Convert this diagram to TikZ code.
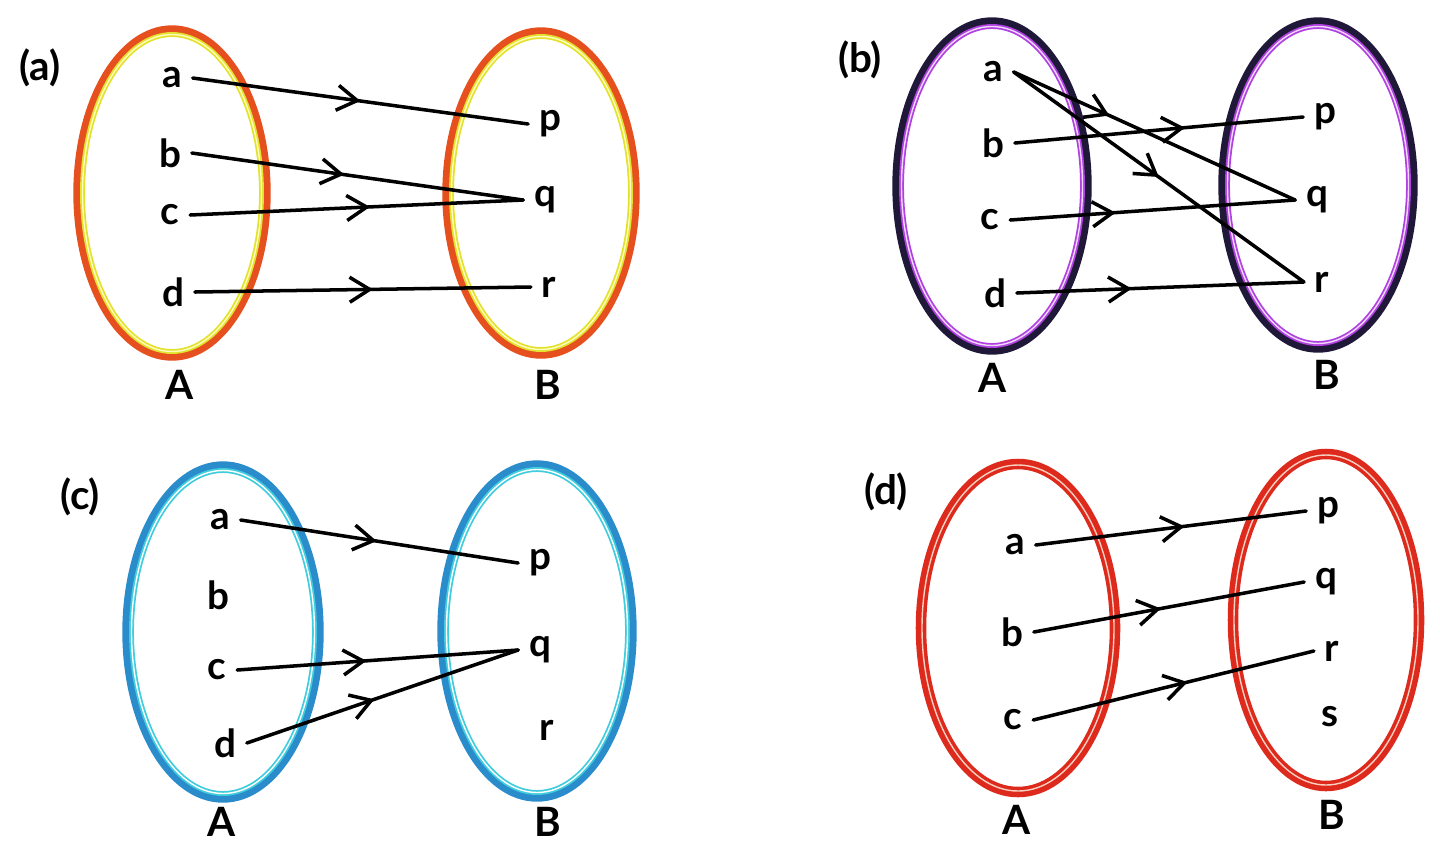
\documentclass[tikz,border=0pt]{standalone}
\usepackage{fontspec}
\setmainfont{Lato}
\usetikzlibrary{arrows.meta,decorations.markings}

\definecolor{orng}{HTML}{E5501E}
\definecolor{yllw}{HTML}{E2E22E}
\definecolor{navy}{HTML}{201838}
\definecolor{purp}{HTML}{B040E0}
\definecolor{sky}{HTML}{2B8CCB}
\definecolor{cyanl}{HTML}{3FCCDD}
\definecolor{rd}{HTML}{DD2A1C}
\definecolor{pinkl}{HTML}{F8D0C0}

\tikzset{
  elem/.style={font=\fontsize{22}{24}\bfseries\selectfont, inner sep=6pt},
  setname/.style={font=\fontsize{23}{24}\bfseries\selectfont},
  tag/.style={font=\fontsize{23}{24}\bfseries\selectfont},
  map/.style={line width=2pt, line cap=round,
    decoration={markings, mark=at position #1 with {\arrow{Straight Barb[length=4mm,width=5mm,line width=2pt]}}},
    postaction={decorate}},
  map/.default=0.5,
  ringout/.style={draw=#1, line width=4.2pt},
  ringin/.style={draw=#1, line width=2.8pt},
  ringline/.style={draw=#1, line width=0.8pt}
}

\begin{document}
\begin{tikzpicture}[x=0.02cm,y=-0.02cm]
  \useasboundingbox (0,0) rectangle (1440,843);

  % (a)
  \node[tag] (ta) at (40,68) {(a)};
  \draw[ringout=orng] (172,193) ellipse [x radius=95, y radius=164];
  \draw[ringin=yllw] (172,193) ellipse [x radius=89.5, y radius=158.5];
  \draw[ringline=yellow!25] (172,193) ellipse [x radius=89.5, y radius=158.5];
  \draw[ringout=orng] (541,193) ellipse [x radius=95, y radius=162];
  \draw[ringin=yllw] (541,193) ellipse [x radius=89.5, y radius=156.5];
  \draw[ringline=yellow!25] (541,193) ellipse [x radius=89.5, y radius=156.5];
  \node[elem] (a1) at (172,78) {a};
  \node[elem] (b1) at (170,153) {b};
  \node[elem] (c1) at (170,215) {c};
  \node[elem] (d1) at (173,292) {d};
  \node[elem] (p1) at (550,124) {p};
  \node[elem] (q1) at (545,200) {q};
  \node[elem] (r1) at (549,287) {r};
  \node[setname] (A1) at (180,385) {A};
  \node[setname] (B1) at (548,385) {B};
  \draw[map=0.5] (a1.east) -- (p1.west);
  \draw[map=0.46] (b1.east) -- (q1.west);
  \draw[map=0.54] (c1.east) -- (q1.west);
  \draw[map=0.53] (d1.east) -- (r1.west);

  % (b)
  \node[tag] (tb) at (860,60) {(b)};
  \draw[ringout=navy] (992,186) ellipse [x radius=96, y radius=165];
  \draw[ringin=purp] (992,186) ellipse [x radius=90.5, y radius=159.5];
  \draw[ringline=purp!20] (992,186) ellipse [x radius=90.5, y radius=159.5];
  \draw[ringout=navy] (1318,185) ellipse [x radius=96, y radius=164];
  \draw[ringin=purp] (1318,185) ellipse [x radius=90.5, y radius=158.5];
  \draw[ringline=purp!20] (1318,185) ellipse [x radius=90.5, y radius=158.5];
  \node[elem] (a2) at (993,72) {a};
  \node[elem] (b2) at (993,143) {b};
  \node[elem] (c2) at (990,220) {c};
  \node[elem] (d2) at (995,293) {d};
  \node[elem] (p2) at (1325,117) {p};
  \node[elem] (q2) at (1317,200) {q};
  \node[elem] (r2) at (1322,282) {r};
  \node[setname] (A2) at (993,378) {A};
  \node[setname] (B2) at (1327,375) {B};
  \draw[map=0.34] (a2.east) -- (q2.west);
  \draw[map=0.5] (a2.east) -- (r2.west);
  \draw[map=0.59] (b2.east) -- (p2.west);
  \draw[map=0.37] (c2.east) -- (q2.west);
  \draw[map=0.4] (d2.east) -- (r2.west);

  % (c)
  \node[tag] (tc) at (80,497) {(c)};
  \draw[ringout=sky] (223,632) ellipse [x radius=97, y radius=167];
  \draw[ringin=cyanl] (223,632) ellipse [x radius=91.5, y radius=161.5];
  \draw[ringline=white] (223,632) ellipse [x radius=91.5, y radius=161.5];
  \draw[ringout=sky] (537,631) ellipse [x radius=96, y radius=167];
  \draw[ringin=cyanl] (537,631) ellipse [x radius=90.5, y radius=161.5];
  \draw[ringline=white] (537,631) ellipse [x radius=90.5, y radius=161.5];
  \node[elem] (a3) at (220,520) {a};
  \node[elem] (b3) at (218,595) {b};
  \node[elem] (c3) at (217,670) {c};
  \node[elem] (d3) at (225,743) {d};
  \node[elem] (p3) at (540,563) {p};
  \node[elem] (q3) at (540,650) {q};
  \node[elem] (r3) at (547,730) {r};
  \node[setname] (A3) at (222,822) {A};
  \node[setname] (B3) at (548,822) {B};
  \draw[map=0.49] (a3.east) -- (p3.west);
  \draw[map=0.46] (c3.east) -- (q3.west);
  \draw[map=0.47] (d3.east) -- (q3.west);

  % (d)
  \node[tag] (td) at (886,492) {(d)};
  \draw[draw=rd, line width=6pt] (1018,628) ellipse [x radius=97, y radius=164];
  \draw[ringline=pinkl] (1018,628) ellipse [x radius=96, y radius=163];
  \draw[draw=rd, line width=6pt] (1326,620) ellipse [x radius=93, y radius=166];
  \draw[ringline=pinkl] (1326,620) ellipse [x radius=92, y radius=165];
  \node[elem] (a4) at (1015,545) {a};
  \node[elem] (b4) at (1012,632) {b};
  \node[elem] (c4) at (1013,720) {c};
  \node[elem] (p4) at (1328,511) {p};
  \node[elem] (q4) at (1326,582) {q};
  \node[elem] (r4) at (1332,651) {r};
  \node[elem] (s4) at (1330,717) {s};
  \node[setname] (A4) at (1017,820) {A};
  \node[setname] (B4) at (1332,815) {B};
  \draw[map=0.55] (a4.east) -- (p4.west);
  \draw[map=0.47] (b4.east) -- (q4.west);
  \draw[map=0.55] (c4.east) -- (r4.west);
\end{tikzpicture}
\end{document}
